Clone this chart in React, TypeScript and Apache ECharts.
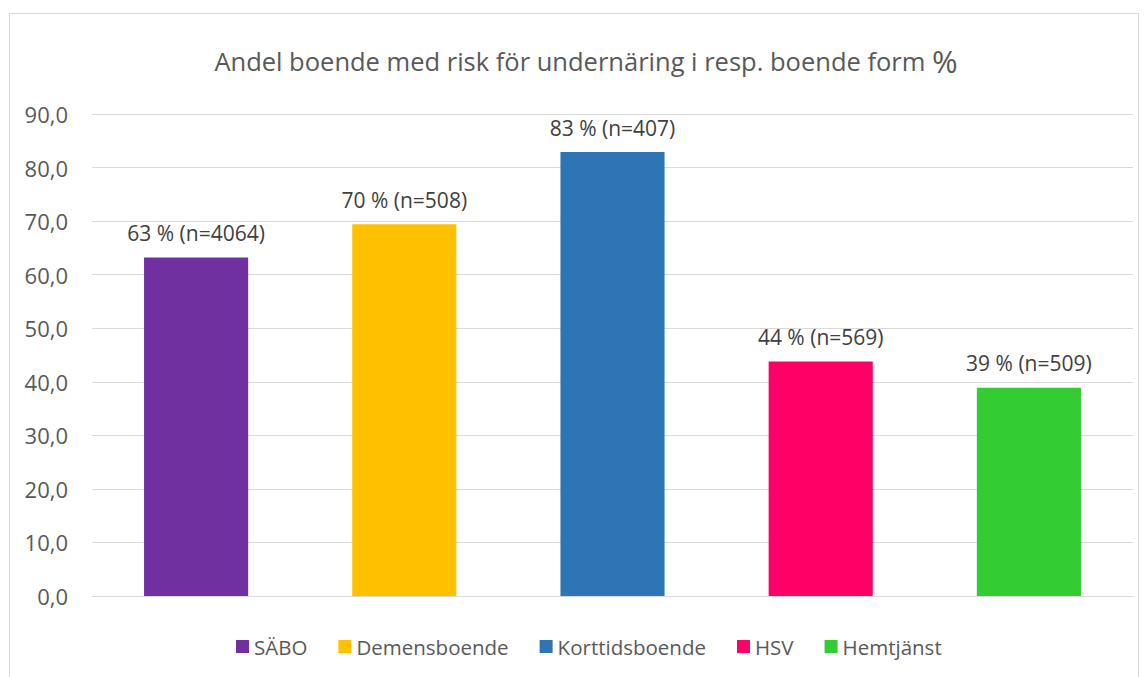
import React, { useEffect, useRef } from "react";
import * as echarts from "echarts";

const categories = ["SÄBO", "Demensboende", "Korttidsboende", "HSV", "Hemtjänst"];
const values = [63.2, 69.4, 82.9, 43.8, 38.9];
const percentLabels = [63, 70, 83, 44, 39];
const nValues = [4064, 508, 407, 569, 509];
const colors = ["#7030a0", "#ffc000", "#2e75b6", "#ff0066", "#33cc33"];
const yMin = 0;
const yMax = 90;
const yInterval = 10;

const FONT = "'Open Sans', 'Noto Sans', sans-serif";

export default function App() {
  const ref = useRef<HTMLDivElement>(null);
  useEffect(() => {
    document.body.style.margin = "0";
    const chart = echarts.init(ref.current!, null, { renderer: "svg" });
    const series = categories.map((name, i) => ({
      name,
      type: "bar",
      barWidth: "50%",
      barGap: "-100%",
      itemStyle: { color: colors[i] },
      data: categories.map((_, j) => (j === i ? values[i] : "-")),
      label: {
        show: true,
        position: "top",
        distance: 14,
        color: "#404040",
        fontFamily: FONT,
        fontSize: 21,
        formatter: () => `${percentLabels[i]} % (n=${nValues[i]})`,
      },
    }));
    chart.setOption({
      animation: false,
      backgroundColor: "#ffffff",
      textStyle: { fontFamily: FONT },
      title: {
        text: "{a|Andel boende med risk för undernäring i resp. boende form }{b|%}",
        left: 581,
        textAlign: "center",
        top: 40,
        textStyle: {
          fontWeight: "normal",
          rich: {
            a: { fontSize: 25.5, color: "#595959", fontFamily: FONT, fontWeight: "normal" },
            b: { fontSize: 31, color: "#595959", fontFamily: FONT, fontWeight: "normal" },
          },
        },
      },
      graphic: [
        {
          type: "rect",
          shape: { x: 9.5, y: 13.5, width: 1129, height: 700 },
          style: { fill: "none", stroke: "#d9d9d9", lineWidth: 1 },
          silent: true,
        },
      ],
      legend: {
        top: 636,
        left: 236,
        padding: 0,
        itemWidth: 13,
        itemHeight: 13,
        itemGap: 31,
        icon: "rect",
        textStyle: { color: "#595959", fontSize: 20.5, fontFamily: FONT },
        data: categories,
      },
      grid: { left: 92, right: 14, top: 114, bottom: 81, containLabel: false },
      xAxis: {
        type: "category",
        data: categories,
        axisLine: { show: true, lineStyle: { color: "#d9d9d9", width: 1 } },
        axisTick: { show: false },
        axisLabel: { show: false },
      },
      yAxis: {
        type: "value",
        min: yMin,
        max: yMax,
        interval: yInterval,
        axisLine: { show: false },
        axisTick: { show: false },
        axisLabel: {
          color: "#595959",
          fontSize: 22,
          fontFamily: FONT,
          margin: 24,
          formatter: (v: number) => v.toFixed(1).replace(".", ","),
        },
        splitLine: { lineStyle: { color: "#d9d9d9", width: 1 } },
      },
      series,
    });
    return () => chart.dispose();
  }, []);
  return <div ref={ref} style={{ width: 1147, height: 677 }} />;
}
